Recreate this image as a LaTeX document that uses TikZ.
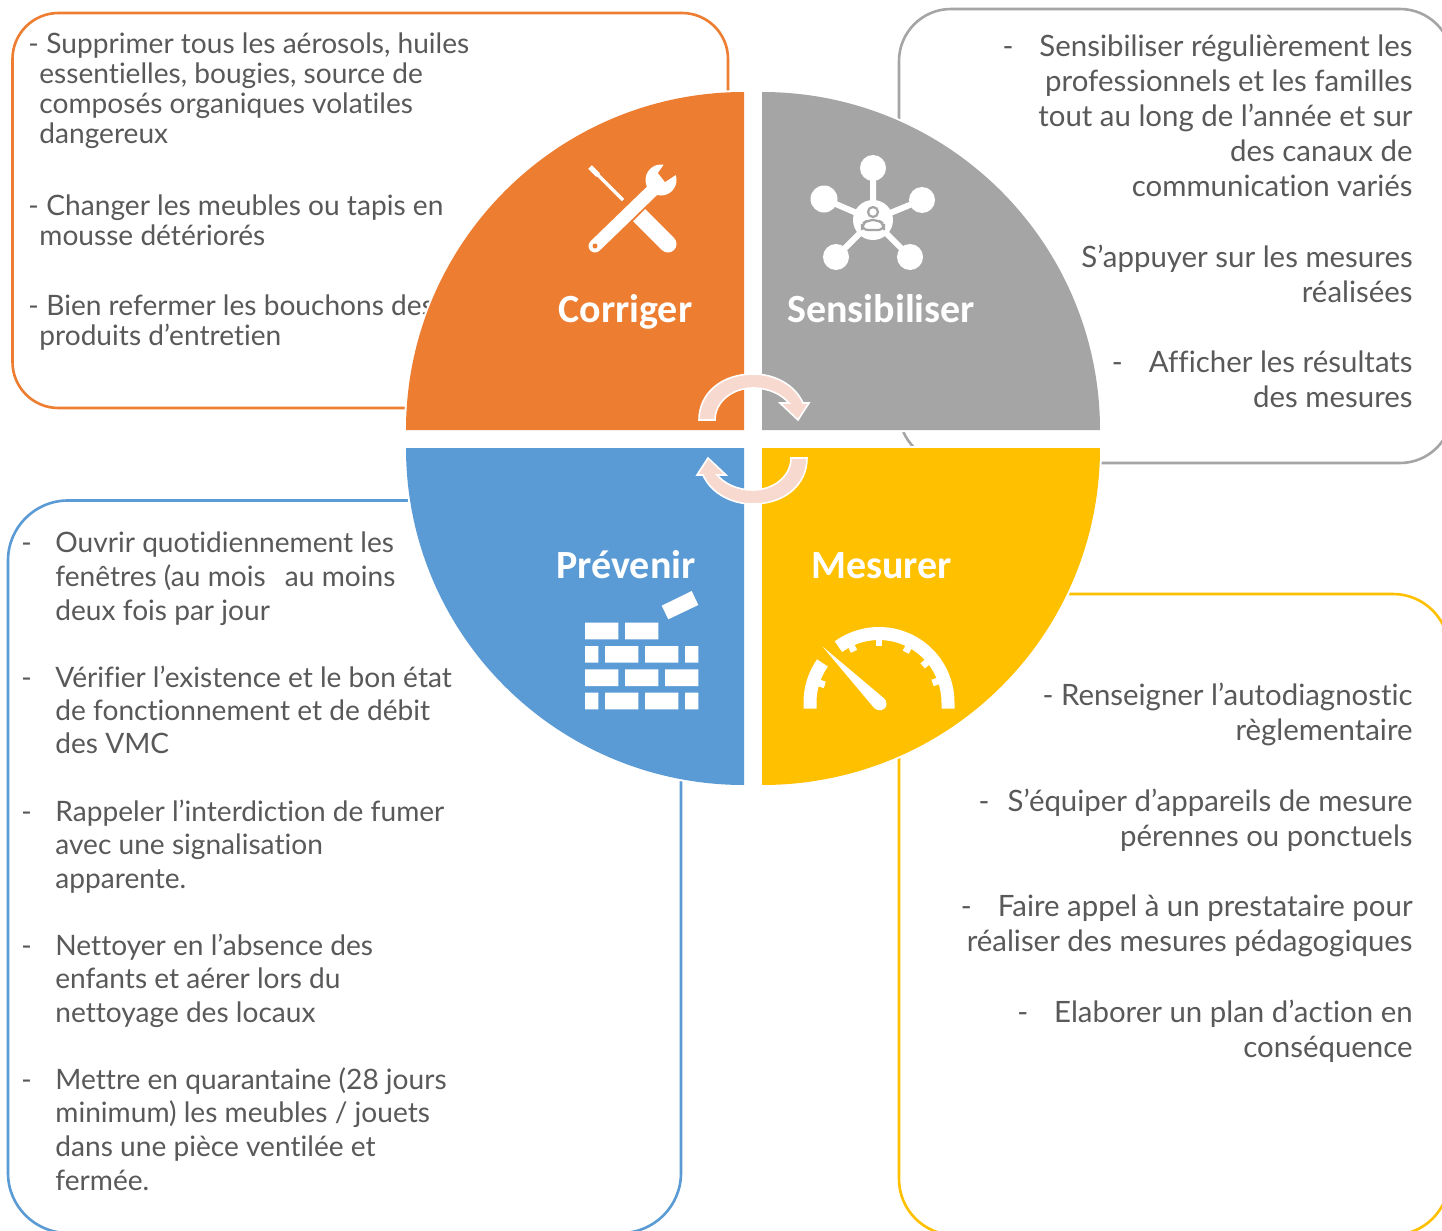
\documentclass[tikz,border=0pt]{standalone}
\usepackage{fontspec}
\setmainfont[Ligatures={NoCommon}]{Lato}
\newfontfamily\headfont{Carlito}
\definecolor{cO}{HTML}{ED7D31}
\definecolor{cG}{HTML}{A5A5A5}
\definecolor{cB}{HTML}{5B9BD5}
\definecolor{cY}{HTML}{FFC000}
\definecolor{cT}{HTML}{595959}
\definecolor{cA}{HTML}{F8D9CF}
\newcommand\lblock[2]{\fontsize{14.05pt}{#1}\selectfont\begin{tabular}[t]{@{}l@{}}#2\end{tabular}}
\newcommand\rblock[2]{\fontsize{14.7pt}{#1}\selectfont\begin{tabular}[t]{@{}r@{}}#2\end{tabular}}
\newcommand\dashgap[1]{\makebox[#1][l]{-}}
\tikzset{
  box/.style={line width=1.3pt,fill=white},
  txl/.style={anchor=base west,inner sep=0pt,text=cT},
  txr/.style={anchor=base east,inner sep=0pt,text=cT},
  head/.style={anchor=base west,inner sep=0pt,text=white,font=\headfont\fontsize{20pt}{22pt}\selectfont\bfseries},
  halo/.style={draw=white,line width=2pt},
  ic/.style={fill=white,draw=none},
  ringarrow/.style={fill=cA,draw=white,line width=.8pt,line join=miter}
}
\begin{document}
\begin{tikzpicture}[x=.5pt,y=-.5pt]
\clip (0,0) rectangle (1442,1231);
\useasboundingbox (0,0) rectangle (1442,1231);
\fill[white] (0,0) rectangle (1442,1231);
% boxes
\draw[box,draw=cO,rounded corners=23pt] (12.5,13) rectangle (728,408);
\draw[box,draw=cG,rounded corners=26pt] (899,9) rectangle (1452,463);
\draw[box,draw=cB,rounded corners=30pt] (8,500.5) rectangle (681,1233);
\draw[box,draw=cY,rounded corners=28pt] (899,594) rectangle (1449,1235);
% orange texts
\node[txl] (o1) at (28,53.5) {\lblock{15pt}{\dashgap{9pt}Supprimer tous les aérosols, huiles\\\hspace*{5.5pt}essentielles, bougies, source de\\\hspace*{5.5pt}composés organiques volatiles\\\hspace*{5.5pt}dangereux}};
\node[txl] (o2) at (28,215) {\lblock{15pt}{\dashgap{9pt}Changer les meubles ou tapis en\\\hspace*{5.5pt}mousse détériorés}};
\node[txl] (o3) at (28,315) {\lblock{15.4pt}{\dashgap{9pt}Bien refermer les bouchons des\\\hspace*{5.5pt}produits d’entretien}};
% gray texts
\node[txr] (g1) at (1413,56) {\rblock{17.6pt}{-\hspace{13pt}Sensibiliser régulièrement les\\professionnels et les familles\\tout au long de l’année et sur\\des canaux de\\communication variés}};
\node[txr] (g2) at (1413,267) {\rblock{17.5pt}{S’appuyer sur les mesures\\réalisées}};
\node[txr] (g3) at (1413,372) {\rblock{17.5pt}{-\hspace{13pt}Afficher les résultats\\des mesures}};
% blue texts
\node[txl] (b1) at (21,552) {\lblock{17pt}{\dashgap{17pt}Ouvrir quotidiennement les\\\hspace*{17pt}fenêtres (au mois\hspace{6pt} au moins\\\hspace*{17pt}deux fois par jour}};
\node[txl] (b2) at (21,687) {\lblock{16.6pt}{\dashgap{17pt}Vérifier l’existence et le bon état\\\hspace*{17pt}de fonctionnement et de débit\\\hspace*{17pt}des VMC}};
\node[txl] (b3) at (21,821) {\lblock{16.8pt}{\dashgap{17pt}Rappeler l’interdiction de fumer\\\hspace*{17pt}avec une signalisation\\\hspace*{17pt}apparente.}};
\node[txl] (b4) at (21,955) {\lblock{16.8pt}{\dashgap{17pt}Nettoyer en l’absence des\\\hspace*{17pt}enfants et aérer lors du\\\hspace*{17pt}nettoyage des locaux}};
\node[txl] (b5) at (21,1089) {\lblock{16.9pt}{\dashgap{17pt}Mettre en quarantaine (28 jours\\\hspace*{17pt}minimum) les meubles / jouets\\\hspace*{17pt}dans une pièce ventilée et\\\hspace*{17pt}fermée.}};
% yellow texts
\node[txr] (y1) at (1413,705) {\rblock{17.5pt}{- Renseigner l’autodiagnostic\\règlementaire}};
\node[txr] (y2) at (1413,811) {\rblock{17.5pt}{-\hspace{9pt}S’équiper d’appareils de mesure\\pérennes ou ponctuels}};
\node[txr] (y3) at (1413,916) {\rblock{17.5pt}{-\hspace{13pt}Faire appel à un prestataire pour\\réaliser des mesures pédagogiques}};
\node[txr] (y4) at (1413,1022) {\rblock{17.5pt}{-\hspace{13pt}Elaborer un plan d’action en\\conséquence}};
% quadrants
\path[halo] (744,430) -- (406,430) .. controls (406,243.3) and (557.3,92) .. (744,92) -- cycle;
\path[halo] (762,430) -- (762,92) .. controls (948.7,92) and (1100,243.3) .. (1100,430) -- cycle;
\path[halo] (744,448) -- (406,448) .. controls (406,634.7) and (557.3,785) .. (744,785) -- cycle;
\path[halo] (762,448) -- (1100,448) .. controls (1100,634.7) and (949.3,785) .. (762,785) -- cycle;
\fill[cO] (744,430) -- (406,430) .. controls (406,243.3) and (557.3,92) .. (744,92) -- cycle;
\fill[cG] (762,430) -- (762,92) .. controls (948.7,92) and (1100,243.3) .. (1100,430) -- cycle;
\fill[cB] (744,448) -- (406,448) .. controls (406,634.7) and (557.3,785) .. (744,785) -- cycle;
\fill[cY] (762,448) -- (1100,448) .. controls (1100,634.7) and (949.3,785) .. (762,785) -- cycle;
% headings
\node[head] (hC) at (558,322) {Corriger};
\node[head] (hS) at (787,322) {Sensibiliser};
\node[head] (hP) at (556,578) {Prévenir};
\node[head] (hM) at (811,578) {Mesurer};
% tools icon
\draw[white,line width=2.6pt] (590,167) -- (598,175);
\draw[white,line width=1.7pt] (594,171) -- (623,200);
\draw[white,line width=8.5pt,line cap=round] (638,214) -- (668,244);
\fill[cO] (632,222) -- (650,204) -- (644,198) -- (626,216) -- cycle;
\draw[white,line width=6.5pt,line cap=round] (595,246) -- (657,186);
\fill[white] (661,180) circle[radius=15.5];
\fill[cO] (665,163) -- (658,173) -- (665,182) -- (680,172) -- (672,160) -- cycle;
\fill[cO] (595,246) circle[radius=2.5];
% network icon
\draw[white,line width=3pt] (873,168) -- (873,220) (824,199) -- (873,220) (922,200) -- (873,220) (836,257) -- (873,220) (910,257) -- (873,220);
\fill[white] (873,168) circle[radius=13] (824,199) circle[radius=13.5] (922,200) circle[radius=13] (836,257) circle[radius=13] (910,257) circle[radius=13] (873,220) circle[radius=20];
\draw[cG,fill=white,line width=1.1pt] (873,212) circle[radius=5];
\draw[cG,fill=white,line width=1.1pt,rounded corners=3pt] (862,230) -- (862,224) -- (868,220) -- (878,220) -- (884,224) -- (884,230) -- cycle;
% bricks icon
\foreach \ya/\yb in {646/662.7,692.7/709.3}{
  \fill[white] (585,\ya) rectangle (598.3,\yb) (605,\ya) rectangle (638.3,\yb) (645,\ya) rectangle (678.3,\yb) (685,\ya) rectangle (698.3,\yb);
}
\fill[white] (585,622.7) rectangle (618.3,639.3) (625,622.7) rectangle (658.3,639.3);
\fill[white] (585,669.3) rectangle (618.3,686) (625,669.3) rectangle (658.3,686) (665,669.3) rectangle (698.3,686);
\fill[white] (661.7,605.7) -- (691.7,591) -- (698.3,605) -- (668.3,619.3) -- cycle;
% gauge icon
\draw[white,line width=6.5pt] (948,708.5) -- plot[domain=0:126,samples=50,variable=\a] ({879+69*cos(\a)},{702.5-69*sin(\a)});
\draw[white,line width=6.5pt] (810,708.5) -- plot[domain=180:145,samples=16,variable=\a] ({879+69*cos(\a)},{702.5-69*sin(\a)});
\foreach \a in {20,40,62,90,116,162}{
  \draw[white,line width=3.4pt] ({879+64*cos(\a)},{702.5-64*sin(\a)}) -- ({879+57*cos(\a)},{702.5-57*sin(\a)});
}
\fill[white] (822.7,646.7) -- (874.3,708.2) .. controls (878,712) and (886,711) .. (886.5,704) .. controls (886.5,701) and (885,699) .. (884,698.3) -- cycle;
% ring arrows
\path[ringarrow] (699,420) .. controls (699,392) and (723,374) .. (753,374) .. controls (775,374) and (795,385) .. (803,403) -- (809,403) -- (798,420) -- (780,403) -- (789,403) .. controls (782,395) and (770,388) .. (753,388) .. controls (732,388) and (715,402) .. (715,420) -- cycle;
\path[ringarrow] (807,458) .. controls (807,486) and (783,504) .. (753,504) .. controls (731,504) and (711,493) .. (703,475) -- (697,475) -- (708,458) -- (726,475) -- (717,475) .. controls (724,483) and (736,490) .. (753,490) .. controls (774,490) and (791,476) .. (791,458) -- cycle;
\end{tikzpicture}
\end{document}
